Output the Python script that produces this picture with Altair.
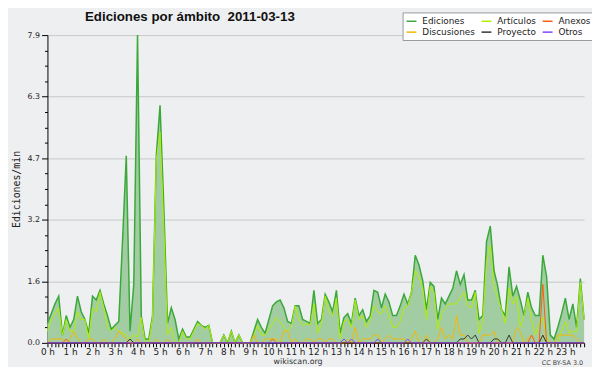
import altair as alt
import pandas as pd

title_text = "Ediciones por ámbito\u00a0 2011-03-13"
y_title = "Ediciones/min"
footer_left = "wikiscan.org"
footer_right = "CC BY-SA 3.0"

series_names = ["Ediciones", "Artículos", "Anexos", "Discusiones", "Proyecto", "Otros"]
series_colors = ["#3aa83a", "#b2ee00", "#ff5a14", "#f5b800", "#333333", "#8040ff"]

ediciones = [
    0.5, 0.75, 1.0, 1.2, 0.2, 0.7, 0.4, 0.6, 1.2, 0.8, 0.6, 0.25,
    1.2, 1.1, 1.35, 1.0, 0.7, 0.35, 0.45, 0.55, 2.6, 4.8, 0.3, 1.5,
    7.9, 0.7, 0.1, 0.1, 0.7, 4.8, 6.1, 3.5, 0.5, 0.9, 0.6, 0.1,
    0.35, 0.15, 0.15, 0.35, 0.55, 0.45, 0.4, 0.45, 0.0, 0.0, 0.0, 0.2,
    0.0, 0.3, 0.0, 0.2, 0.0, 0.0, 0.0, 0.3, 0.6, 0.4, 0.25, 0.6,
    0.95, 1.05, 1.1, 0.9, 0.55, 0.5, 0.95, 0.95, 0.6, 0.55, 0.5, 1.35,
    0.5, 0.6, 1.25, 1.05, 0.8, 1.35, 0.25, 0.65, 0.75, 0.5, 1.15, 0.7,
    0.85, 0.55, 0.7, 1.35, 1.3, 0.9, 1.25, 1.05, 0.7, 0.7, 0.95, 1.25,
    1.0, 1.3, 2.25, 2.0, 1.6, 0.85, 1.55, 1.45, 0.6, 1.15, 1.0, 1.2,
    1.4, 1.85, 1.5, 1.75, 1.1, 1.1, 1.35, 0.6, 0.7, 2.6, 3.0, 1.85,
    1.45, 0.85, 0.7, 1.95, 1.2, 1.45, 1.1, 0.7, 1.3, 0.9, 0.7, 0.7,
    2.25, 1.7, 0.2, 0.1, 0.4, 0.75, 1.15, 0.6, 1.0, 0.4, 1.65, 0.6,
]
articulos = [
    0.3, 0.6, 0.75, 0.9, 0.2, 0.6, 0.3, 0.3, 0.8, 0.6, 0.6, 0.1,
    0.9, 0.8, 1.3, 0.9, 0.4, 0.3, 0.4, 0.3, 0.25, 0.2, 0.1, 0.2,
    0.15, 0.65, 0.0, 0.0, 0.65, 4.7, 5.4, 3.0, 0.2, 0.4, 0.0, 0.0,
    0.3, 0.1, 0.1, 0.3, 0.5, 0.45, 0.35, 0.45, 0.0, 0.0, 0.0, 0.2,
    0.0, 0.3, 0.0, 0.2, 0.0, 0.0, 0.0, 0.2, 0.45, 0.2, 0.2, 0.35,
    0.5, 0.65, 0.55, 0.4, 0.3, 0.4, 0.95, 0.6, 0.45, 0.5, 0.45, 1.0,
    0.25, 0.5, 1.2, 0.8, 0.7, 1.15, 0.1, 0.55, 0.6, 0.4, 1.1, 0.6,
    0.7, 0.4, 0.6, 0.95, 0.8, 0.75, 0.95, 0.7, 0.4, 0.4, 0.55, 0.9,
    0.95, 1.3, 1.85, 1.7, 1.4, 0.6, 1.45, 1.3, 0.35, 0.75, 0.9, 1.0,
    1.0, 1.0, 1.15, 1.3, 0.95, 0.9, 1.3, 0.25, 0.55, 2.1, 2.5, 1.45,
    1.15, 0.85, 0.5, 1.4, 1.0, 1.2, 0.4, 0.7, 1.15, 0.6, 0.2, 0.5,
    0.65, 0.15, 0.0, 0.0, 0.0, 0.3, 0.55, 0.25, 0.3, 0.3, 1.55, 0.6,
]
discusiones = [
    0.0, 0.1, 0.1, 0.1, 0.1, 0.0, 0.1, 0.3, 0.1, 0.0, 0.0, 0.1,
    0.1, 0.0, 0.0, 0.1, 0.0, 0.0, 0.1, 0.3, 0.2, 0.1, 0.0, 0.0,
    0.1, 0.0, 0.0, 0.0, 0.0, 0.1, 0.0, 0.0, 0.1, 0.0, 0.0, 0.0,
    0.0, 0.0, 0.0, 0.0, 0.1, 0.0, 0.0, 0.0, 0.0, 0.0, 0.0, 0.0,
    0.0, 0.0, 0.0, 0.0, 0.0, 0.0, 0.0, 0.2, 0.0, 0.0, 0.1, 0.1,
    0.1, 0.1, 0.0, 0.3, 0.3, 0.0, 0.1, 0.0, 0.0, 0.1, 0.1, 0.0,
    0.1, 0.1, 0.0, 0.1, 0.1, 0.0, 0.0, 0.0, 0.1, 0.0, 0.4, 0.0,
    0.1, 0.1, 0.1, 0.2, 0.2, 0.0, 0.1, 0.2, 0.1, 0.1, 0.1, 0.1,
    0.0, 0.1, 0.3, 0.0, 0.0, 0.2, 0.0, 0.0, 0.1, 0.4, 0.1, 0.2,
    0.1, 0.7, 0.2, 0.2, 0.0, 0.0, 0.0, 0.0, 0.2, 0.2, 0.2, 0.3,
    0.0, 0.0, 0.0, 0.0, 0.0, 0.4, 0.3, 0.0, 0.1, 0.2, 0.0, 0.0,
    0.2, 0.0, 0.0, 0.0, 0.2, 0.2, 0.2, 0.2, 0.2, 0.1, 0.0, 0.0,
]
anexos = [0.0] * 144
anexos[5] = 0.1
anexos[60] = 0.1
anexos[129] = 0.2
anexos[132] = 1.5
proyecto = [0.0] * 144
for i, v in [(22, 0.1), (101, 0.1), (110, 0.1), (111, 0.1), (112, 0.2), (113, 0.1),
             (114, 0.2), (119, 0.1), (120, 0.1), (123, 0.2), (132, 0.2)]:
    proyecto[i] = v
otros = [0.0] * 144
for i in [79, 81, 88, 96]:
    otros[i] = 0.1

idx = list(range(144))
values_by_series = {
    "Ediciones": ediciones,
    "Artículos": articulos,
    "Discusiones": discusiones,
    "Anexos": anexos,
    "Proyecto": proyecto,
    "Otros": otros,
}
rows = []
for name, vals in values_by_series.items():
    for i, v in zip(idx, vals):
        rows.append({"idx": i, "series": name, "value": v})
df_long = pd.DataFrame(rows)
df_total = pd.DataFrame({"idx": idx, "value": ediciones})

ymax = 7.9
yvals = [round(ymax * k / 20, 4) for k in range(21)]
major_test = "round(datum.value / 0.395) % 4 == 0"

x_scale = alt.Scale(domain=[0, 143], nice=False, zero=False)
y_scale = alt.Scale(domain=[0, ymax], nice=False)

x_axis = alt.Axis(
    values=idx, tickCount=500,
    labelExpr="datum.value % 6 == 0 ? (datum.value / 6) + ' h' : ''",
    labelOverlap=False, labelFlush=False, grid=False, tickSize=4, tickColor="black",
    domainColor="black", labelFont="DejaVu Sans", labelFontSize=9, labelColor="#222",
    labelPadding=1, title=None,
)
y_axis = alt.Axis(
    values=yvals, tickCount=500,
    labelExpr=major_test + " ? format(datum.value, '.1f') : ''",
    labelOverlap=False, tickColor="black", domainColor="black",
    tickSize={"condition": {"test": major_test, "value": 6}, "value": 3},
    gridOpacity={"condition": {"test": major_test, "value": 1}, "value": 0},
    grid=True, gridColor="#c8c8c8", labelFont="DejaVu Sans", labelFontSize=8,
    labelColor="#222", labelPadding=2,
    title=y_title, titleFont="DejaVu Sans Mono", titleFontSize=10, titleFontWeight="normal",
    titleColor="#222", titleX=-31, titleY=156, titleBaseline="middle", titleAngle=270,
)

area = alt.Chart(df_total).mark_area(color="#a2cda2", opacity=1).encode(
    x=alt.X("idx:Q", scale=x_scale, axis=x_axis),
    y=alt.Y("value:Q", scale=y_scale, axis=y_axis),
)

lines = alt.Chart(df_long).mark_line(interpolate="linear").encode(
    x=alt.X("idx:Q", scale=x_scale),
    y=alt.Y("value:Q", scale=y_scale),
    color=alt.Color(
        "series:N",
        scale=alt.Scale(domain=series_names, range=series_colors),
        legend=alt.Legend(
            title=None, orient="none", legendX=360, legendY=-23, columns=3,
            direction="horizontal", symbolType="stroke", symbolSize=100,
            symbolStrokeWidth=1.5, labelFont="DejaVu Sans", labelFontSize=9,
            labelColor="#222", fillColor="white", strokeColor="#999", padding=3,
            columnPadding=3, rowPadding=-1, labelOffset=5,
        ),
    ),
    strokeWidth=alt.condition("datum.series == 'Ediciones'", alt.value(1.5), alt.value(1)),
)

title = alt.Chart(pd.DataFrame({"t": [title_text]})).mark_text(
    align="left", baseline="alphabetic", font="Liberation Sans", fontSize=13.5,
    fontWeight="bold", color="#111",
).encode(text="t:N", x=alt.value(38), y=alt.value(-14))

foot1 = alt.Chart(pd.DataFrame({"t": [footer_left]})).mark_text(
    align="center", baseline="alphabetic", font="DejaVu Sans", fontSize=8, color="#333",
).encode(text="t:N", x=alt.value(254), y=alt.value(333))

foot2 = alt.Chart(pd.DataFrame({"t": [footer_right]})).mark_text(
    align="right", baseline="alphabetic", font="DejaVu Sans", fontSize=6.5, color="#444",
).encode(text="t:N", x=alt.value(543), y=alt.value(334))

chart = alt.layer(area, lines, title, foot1, foot2).properties(
    width=544, height=312,
    autosize=alt.AutoSizeParams(type="none"),
    padding={"left": 40, "top": 25, "right": 8, "bottom": 22},
    background="#eeeff0",
).configure_view(stroke=None)

chart.save("out.html", embed_options={"renderer": "svg", "actions": False})
